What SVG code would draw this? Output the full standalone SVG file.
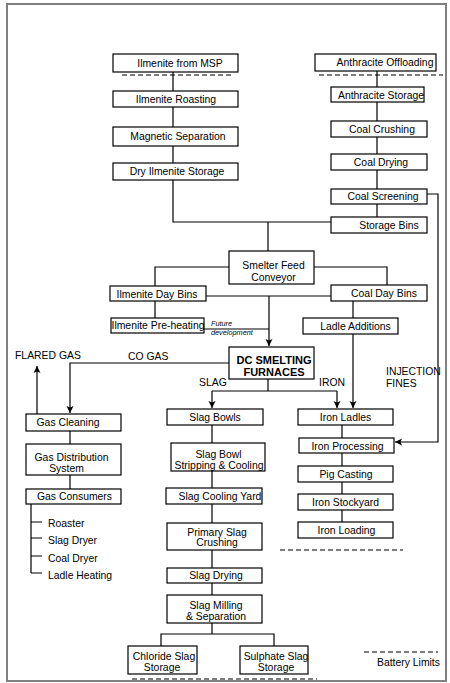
<svg xmlns="http://www.w3.org/2000/svg" width="450" height="683" viewBox="0 0 450 683">
<defs>
<style>
text{font-family:"Liberation Sans",Arial,sans-serif;font-size:10.4px;fill:#000}
.c{text-anchor:middle}
.b{fill:#fff;stroke:#000;stroke-width:1.2}
.l{fill:none;stroke:#000;stroke-width:1.2}
.d{fill:none;stroke:#000;stroke-width:1.2;stroke-dasharray:5,3}
.bold{font-weight:bold;font-size:11px}
.it{font-style:italic;font-size:7.3px}
</style>
<marker id="ah" markerWidth="8" markerHeight="8" refX="7" refY="4" orient="auto" markerUnits="userSpaceOnUse">
<path d="M0,0.5 L7,4 L0,7.5 L1.5,4 z" fill="#000"/>
</marker>
</defs>
<rect x="7" y="4" width="439" height="677" fill="#fff" stroke="#808080" stroke-width="2"/>
<g id="connectors">
<path class="l" d="M173,72V91M173,107V127M173,146V163M173,180V222H331"/>
<path class="l" d="M377,71V87M377,102V121M377,137V154M377,170V189M377,204V217"/>
<path class="l" d="M268,222V251M229,267H155V286M314,267H387V285M155,301V318M206,296H331M204,329H269"/>
<path class="l" d="M269,296V346" marker-end="url(#ah)"/>
<path class="l" d="M353,301V318"/>
<path class="l" d="M353,334V408" marker-end="url(#ah)"/>
<path class="l" d="M427,194H438V442H395" marker-end="url(#ah)"/>
<path class="l" d="M229,363H70V413" marker-end="url(#ah)"/>
<path class="l" d="M37,414V366" marker-end="url(#ah)"/>
<path class="l" d="M70,431V444M70,475V489M31,504V573M31,522H42M31,538H42M31,556H42M31,573H42"/>
<path class="l" d="M268,379V391M212,391H337"/>
<path class="l" d="M212,391V408" marker-end="url(#ah)"/>
<path class="l" d="M337,391V408" marker-end="url(#ah)"/>
<path class="l" d="M212,425V443M212,471V488M212,504V523M212,550V568M212,583V595M212,623V634M161,646V634H274V646"/>
<path class="l" d="M342,425V438M342,453V466M342,482V494M342,510V522"/>
<path class="d" d="M122,75H233M319,75H443M280,550H403M132,679H317M364,652H438"/>
</g>
<g id="labels">
<text x="15" y="359">FLARED GAS</text>
<text x="128" y="360">CO GAS</text>
<text x="199" y="386">SLAG</text>
<text x="319" y="386">IRON</text>
<text x="386" y="375">INJECTION</text>
<text x="386" y="387">FINES</text>
<text x="211" y="326" class="it">Future</text>
<text x="211" y="335" class="it">development</text>
<text x="377" y="666">Battery Limits</text>
<text x="48" y="527">Roaster</text>
<text x="48" y="544">Slag Dryer</text>
<text x="48" y="562">Coal Dryer</text>
<text x="48" y="579">Ladle Heating</text>
</g>
<g id="n1"><rect class="b" x="113" y="54" width="125" height="18"/><text class="c" x="180" y="67">Ilmenite from MSP</text></g>
<g id="n2"><rect class="b" x="113" y="91" width="125" height="16"/><text class="c" x="176" y="103">Ilmenite Roasting</text></g>
<g id="n3"><rect class="b" x="113" y="127" width="125" height="19"/><text class="c" x="178" y="140">Magnetic Separation</text></g>
<g id="n4"><rect class="b" x="113" y="163" width="125" height="17"/><text class="c" x="177" y="175">Dry Ilmenite Storage</text></g>
<g id="n5"><rect class="b" x="315" y="54" width="121" height="17"/><text class="c" x="385" y="66">Anthracite Offloading</text></g>
<g id="n6"><rect class="b" x="331" y="87" width="93" height="15"/><text class="c" x="381" y="98.5">Anthracite Storage</text></g>
<g id="n7"><rect class="b" x="331" y="121" width="96" height="16"/><text class="c" x="382" y="133">Coal Crushing</text></g>
<g id="n8"><rect class="b" x="331" y="154" width="96" height="16"/><text class="c" x="381" y="166">Coal Drying</text></g>
<g id="n9"><rect class="b" x="331" y="189" width="96" height="15"/><text class="c" x="383" y="200">Coal Screening</text></g>
<g id="n10"><rect class="b" x="331" y="217" width="96" height="16"/><text class="c" x="389" y="229">Storage Bins</text></g>
<g id="n11"><rect class="b" x="229" y="251" width="85" height="33"/><text class="c" x="273.5" y="268.5">Smelter Feed</text><text class="c" x="273.5" y="280.5">Conveyor</text></g>
<g id="n12"><rect class="b" x="110" y="286" width="96" height="15"/><text class="c" x="157" y="297.5">Ilmenite Day Bins</text></g>
<g id="n13"><rect class="b" x="331" y="285" width="96" height="16"/><text class="c" x="384" y="297">Coal Day Bins</text></g>
<g id="n14"><rect class="b" x="111" y="318" width="93" height="15"/><text class="c" x="158" y="329">Ilmenite Pre-heating</text></g>
<g id="n15"><rect class="b" x="303" y="318" width="95" height="16"/><text class="c" x="355.5" y="330">Ladle Additions</text></g>
<g id="n16"><rect class="b" x="229" y="347" width="85" height="32"/><text class="c bold" x="274" y="364">DC SMELTING</text><text class="c bold" x="274" y="376">FURNACES</text></g>
<g id="n17"><rect class="b" x="26" y="414" width="95" height="17"/><text class="c" x="68" y="426">Gas Cleaning</text></g>
<g id="n18"><rect class="b" x="26" y="444" width="95" height="31"/><text class="c" x="71.5" y="460.5">Gas Distribution</text><text class="c" x="66.5" y="472">System</text></g>
<g id="n19"><rect class="b" x="26" y="489" width="95" height="15"/><text class="c" x="74.5" y="500">Gas Consumers</text></g>
<g id="n20"><rect class="b" x="167" y="409" width="96" height="16"/><text class="c" x="215" y="421">Slag Bowls</text></g>
<g id="n21"><rect class="b" x="171" y="443" width="94" height="28"/><text class="c" x="218.5" y="458">Slag Bowl</text><text class="c" x="219" y="469">Stripping &amp; Cooling</text></g>
<g id="n22"><rect class="b" x="166" y="488" width="96" height="16"/><text class="c" x="220" y="500">Slag Cooling Yard</text></g>
<g id="n23"><rect class="b" x="167" y="523" width="95" height="27"/><text class="c" x="217" y="535.5">Primary Slag</text><text class="c" x="217" y="546">Crushing</text></g>
<g id="n24"><rect class="b" x="167" y="568" width="95" height="15"/><text class="c" x="216" y="579">Slag Drying</text></g>
<g id="n25"><rect class="b" x="167" y="595" width="95" height="28"/><text class="c" x="216" y="608.5">Slag Milling</text><text class="c" x="216" y="619.5">&amp; Separation</text></g>
<g id="n26"><rect class="b" x="128" y="646" width="69" height="28"/><text class="c" x="164" y="659.5">Chloride Slag</text><text class="c" x="162" y="670.5">Storage</text></g>
<g id="n27"><rect class="b" x="240" y="646" width="68" height="28"/><text class="c" x="276" y="659.5">Sulphate Slag</text><text class="c" x="276" y="670.5">Storage</text></g>
<g id="n28"><rect class="b" x="298" y="409" width="95" height="16"/><text class="c" x="345.5" y="421">Iron Ladles</text></g>
<g id="n29"><rect class="b" x="299" y="438" width="95" height="15"/><text class="c" x="347.5" y="449.5">Iron Processing</text></g>
<g id="n30"><rect class="b" x="298" y="466" width="95" height="16"/><text class="c" x="346" y="478">Pig Casting</text></g>
<g id="n31"><rect class="b" x="298" y="494" width="95" height="16"/><text class="c" x="345.5" y="506">Iron Stockyard</text></g>
<g id="n32"><rect class="b" x="298" y="522" width="95" height="16"/><text class="c" x="346.5" y="534">Iron Loading</text></g>
</svg>
